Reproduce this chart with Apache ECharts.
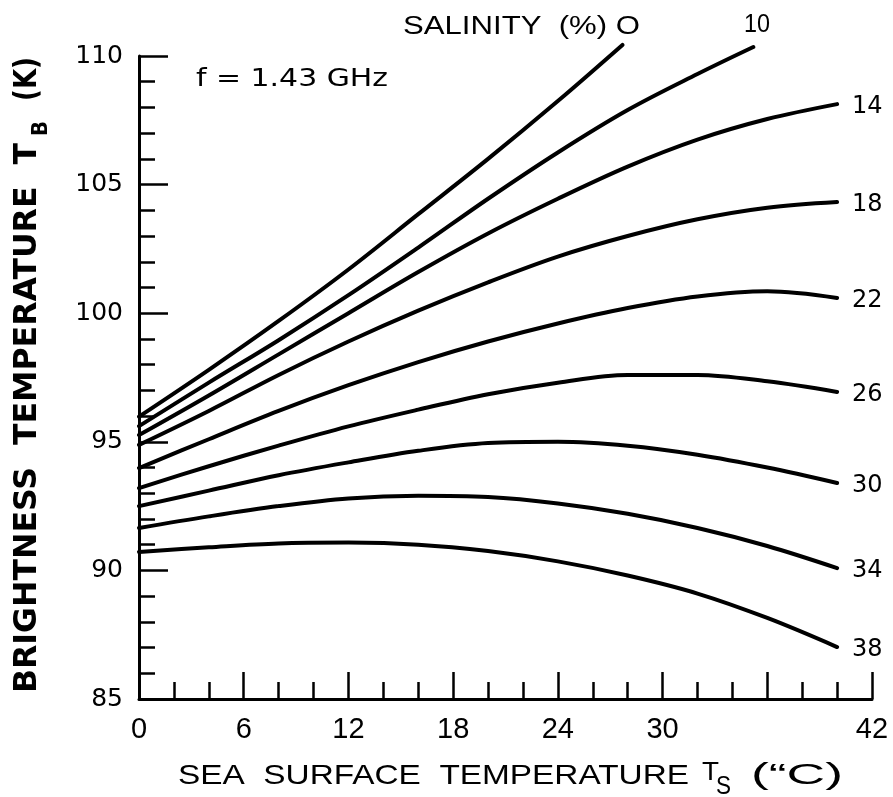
<!DOCTYPE html>
<html>
<head>
<meta charset="utf-8">
<script src="https://cdn.jsdelivr.net/npm/echarts@6/dist/echarts.min.js"></script>
<style>
  html, body { margin: 0; padding: 0; background: #fff; }
  #chart { width: 893px; height: 797px; }
</style>
</head>
<body>
<div id="chart"></div>
<script>
// Brightness temperature T_B (K) against sea surface temperature T_S (°C), f = 1.43 GHz
const xTickLabels = [0, 6, 12, 18, 24, 30, 42];
const salinities = ['0', '10', '14', '18', '22', '26', '30', '34', '38'];

// [T_S (°C), T_B (K)] points along each salinity curve
const sal0  = [[0, 95.98], [4, 97.8], [8, 99.7], [12, 101.7], [16, 103.85], [20, 106.0], [24, 108.25], [27.7, 110.43]];
const sal10 = [[0, 95.61], [4, 97.3], [8, 98.95], [12, 100.7], [16, 102.55], [20, 104.45], [24, 106.25], [28, 107.9], [32, 109.3], [35.2, 110.35]];
const sal14 = [[0, 95.26], [4, 96.8], [8, 98.4], [12, 100.0], [16, 101.6], [20, 103.1], [24, 104.45], [28, 105.7], [32, 106.75], [36, 107.55], [40, 108.13]];
const sal18 = [[0, 94.88], [4, 96.2], [8, 97.6], [12, 98.9], [16, 100.1], [20, 101.2], [24, 102.2], [28, 103.0], [32, 103.65], [36, 104.1], [40, 104.32]];
const sal22 = [[0, 93.98], [4, 95.1], [8, 96.2], [12, 97.2], [16, 98.1], [20, 98.9], [24, 99.6], [28, 100.2], [32, 100.65], [36, 100.85], [40, 100.59]];
const sal26 = [[0, 93.2], [4, 94.05], [8, 94.85], [12, 95.6], [16, 96.25], [20, 96.85], [24, 97.3], [28, 97.6], [32, 97.6], [36, 97.35], [40, 96.94]];
const sal30 = [[0, 92.5], [4, 93.1], [8, 93.7], [12, 94.2], [16, 94.65], [20, 94.95], [24, 95.0], [28, 94.85], [32, 94.5], [36, 94.0], [40, 93.4]];
const sal34 = [[0, 91.65], [4, 92.1], [8, 92.5], [12, 92.8], [16, 92.9], [20, 92.85], [24, 92.6], [28, 92.2], [32, 91.65], [36, 90.95], [40, 90.09]];
const sal38 = [[0, 90.72], [4, 90.9], [8, 91.05], [12, 91.08], [16, 91.0], [20, 90.75], [24, 90.35], [28, 89.8], [32, 89.1], [36, 88.15], [40, 87.02]];

const curves = [sal0, sal10, sal14, sal18, sal22, sal26, sal30, sal34, sal38];

const chart = echarts.init(document.getElementById('chart'), null, { renderer: 'canvas' });

const ink = '#000';
const letterFont = '"DejaVu Sans", sans-serif';
const plainFont = '"Liberation Sans", Arial, sans-serif';

// width helper used to stretch the lettering horizontally
const measureCtx = document.createElement('canvas').getContext('2d');
function textWidth(str, font) {
  measureCtx.font = font;
  return measureCtx.measureText(str).width;
}
function stretched(str, x, y, targetWidth, size, family, weight) {
  const font = (weight || 'normal') + ' ' + size + 'px ' + family;
  const w = textWidth(str, font);
  return {
    type: 'text',
    x: x, y: y,
    scaleX: targetWidth / w,
    style: {
      text: str, fill: ink, font: font,
      textAlign: 'left', textVerticalAlign: 'middle'
    },
    z: 10
  };
}

const series = curves.map((pts, i) => {
  const s = {
    type: 'line',
    name: salinities[i],
    data: pts,
    smooth: 0.35,
    showSymbol: false,
    symbol: 'none',
    clip: false,
    lineStyle: { color: ink, width: 4, cap: 'round' },
    emphasis: { disabled: true },
    silent: true
  };
  if (i >= 2) {
    s.endLabel = {
      show: true,
      formatter: salinities[i],
      color: ink,
      fontFamily: letterFont,
      fontSize: 24,
      distance: 15,
      offset: [0, 3]
    };
  }
  return s;
});

// y-axis title, drawn rotated to read bottom-to-top
const yTitle = {
  type: 'group',
  x: 28, y: 693,
  rotation: Math.PI / 2,
  children: [
    stretched('BRIGHTNESS  TEMPERATURE  T', 0, 0, 550, 32, letterFont, 'bold'),
    stretched('B', 557, 13, 15, 22, letterFont, 'bold'),
    stretched('(K)', 592, 0, 44, 32, letterFont, 'bold')
  ]
};

const xTitle = {
  type: 'group',
  children: [
    stretched('SEA  SURFACE  TEMPERATURE', 178, 776, 511, 28, plainFont),
    stretched('T', 702, 773, 17, 26, plainFont),
    stretched('S', 716, 787, 15, 26, plainFont),
    stretched('(\u201CC)', 751, 776, 92, 29, plainFont)
  ]
};

const option = {
  backgroundColor: '#fff',
  animation: false,
  grid: { left: 139, right: 21, top: 56, bottom: 98, containLabel: false },
  xAxis: {
    type: 'value',
    min: 0, max: 42, interval: 6,
    axisLine: { show: true, lineStyle: { color: ink, width: 3 } },
    axisTick: { show: true, inside: true, length: 27, lineStyle: { color: ink, width: 2.5 } },
    minorTick: { show: true, splitNumber: 3, length: 17, lineStyle: { color: ink, width: 2.5 } },
    splitLine: { show: false },
    axisLabel: {
      color: ink, fontFamily: plainFont, fontSize: 29, margin: 16,
      formatter: v => xTickLabels.indexOf(v) >= 0 ? String(v) : ''
    }
  },
  yAxis: {
    type: 'value',
    min: 85, max: 110, interval: 5,
    axisLine: { show: true, lineStyle: { color: ink, width: 3 } },
    axisTick: { show: true, inside: true, length: 29, lineStyle: { color: ink, width: 2.5 } },
    minorTick: { show: true, splitNumber: 5, length: 16, lineStyle: { color: ink, width: 2.5 } },
    splitLine: { show: false },
    axisLabel: { color: ink, fontFamily: letterFont, fontSize: 25, margin: 16 }
  },
  series: series,
  graphic: [
    yTitle,
    xTitle,
    stretched('f = 1.43 GHz', 196, 80, 192, 24, letterFont),
    stretched('SALINITY  (%) O', 403, 27, 237, 25, plainFont),
    stretched('10', 744, 25, 26, 25, plainFont)
  ]
};

chart.setOption(option);
</script>
</body>
</html>
